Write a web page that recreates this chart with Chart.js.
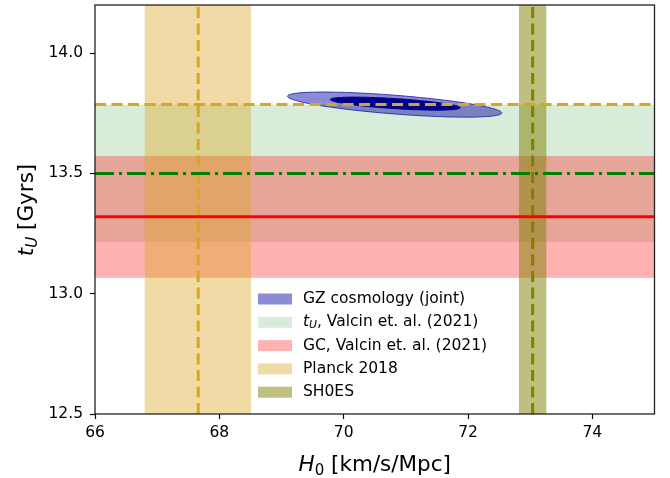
<!DOCTYPE html>
<html><head><meta charset="utf-8">
<script src="https://cdn.jsdelivr.net/npm/chart.js@4/dist/chart.umd.min.js"></script>
<style>html,body{margin:0;padding:0;background:#fff}#wrap{width:670px;height:478px;position:relative}</style>
</head><body><div id="wrap"><canvas id="c" width="670" height="478"></canvas></div>
<script>
// ---------- data ----------
const xTicks = [66, 68, 70, 72, 74];
const xTickLabels = ['66', '68', '70', '72', '74'];
const yTicks = [12.5, 13.0, 13.5, 14.0];
const yTickLabels = ['12.5', '13.0', '13.5', '14.0'];
const xRange = [66, 75];
const yRange = [12.5, 14.2];

// horizontal bands (t_U, Gyr)
const tUBand = [13.215, 13.786];
const gcBand = [13.066, 13.572];
// vertical bands (H0)
const planckBand = [66.80, 68.51];
const shoesBand = [72.82, 73.26];
// reference lines
const tUCentral = 13.5;
const gcCentral = 13.32;
const planckH0 = 67.66;
const planckAge = 13.786;
const shoesH0 = 73.04;
// GZ joint contours (outer, inner): centre, major half-axis vector, minor half-height
const gzCenterH0 = [70.82, 70.83];
const gzCenterAge = [13.786, 13.790];
const gzMajorH0 = [1.723, 1.045];
const gzMajorAge = [-0.0347, -0.0172];
const gzMinorAge = [0.039, 0.021];

const legendLabels = ['GZ cosmology (joint)', 'tU, Valcin et. al. (2021)', 'GC, Valcin et. al. (2021)', 'Planck 2018', 'SH0ES'];

// ---------- styles ----------
const FONT = '"DejaVu Sans", "Liberation Sans", sans-serif';
const C_TU = 'rgba(0,128,0,0.15)';
const C_GC = 'rgba(255,0,0,0.30)';
const C_PL = 'rgba(218,165,32,0.40)';
const C_SH = 'rgba(128,128,0,0.50)';
const C_GZ = 'rgba(0,0,160,0.45)';
const C_GZ_IN = '#00008b';
const legendColors = [C_GZ, C_TU, C_GC, C_PL, C_SH];

function hLine(y) { return [{x: xRange[0], y: y}, {x: xRange[1], y: y}]; }
function vLine(x) { return [{x: x, y: yRange[0]}, {x: x, y: yRange[1]}]; }

function drawRich(ctx, segs, size) {
  let x = 0;
  for (const s of segs) {
    const sz = s.sub ? size * 0.7 : size;
    ctx.font = (s.italic ? 'italic ' : '') + sz + 'px ' + FONT;
    const dy = s.sub ? size * 0.2 : 0;
    ctx.fillText(s.t, x, dy);
    x += ctx.measureText(s.t).width;
  }
  return x;
}
function richWidth(ctx, segs, size) {
  let x = 0;
  for (const s of segs) {
    const sz = s.sub ? size * 0.7 : size;
    ctx.font = (s.italic ? 'italic ' : '') + sz + 'px ' + FONT;
    x += ctx.measureText(s.t).width;
  }
  return x;
}

const decor = {
  id: 'decor',
  beforeDatasetsDraw(chart) {
    const {ctx, chartArea: a, scales: {x, y}} = chart;
    ctx.save();
    ctx.beginPath(); ctx.rect(a.left, a.top, a.right - a.left, a.bottom - a.top); ctx.clip();
    const hb = (b, c) => { ctx.fillStyle = c; const t = y.getPixelForValue(b[1]), btm = y.getPixelForValue(b[0]); ctx.fillRect(a.left, t, a.right - a.left, btm - t); };
    const vb = (b, c) => { ctx.fillStyle = c; const l = x.getPixelForValue(b[0]), r = x.getPixelForValue(b[1]); ctx.fillRect(l, a.top, r - l, a.bottom - a.top); };
    hb(tUBand, C_TU);
    hb(gcBand, C_GC);
    vb(planckBand, C_PL);
    vb(shoesBand, C_SH);
    for (let i = 0; i < gzCenterH0.length; i++) {
      ctx.beginPath();
      const N = 180;
      for (let k = 0; k <= N; k++) {
        const t = 2 * Math.PI * k / N;
        const hx = gzCenterH0[i] + Math.cos(t) * gzMajorH0[i];
        const ay = gzCenterAge[i] + Math.cos(t) * gzMajorAge[i] + Math.sin(t) * gzMinorAge[i];
        const px = x.getPixelForValue(hx), py = y.getPixelForValue(ay);
        if (k === 0) ctx.moveTo(px, py); else ctx.lineTo(px, py);
      }
      ctx.closePath();
      ctx.fillStyle = i === 0 ? C_GZ : C_GZ_IN;
      ctx.fill();
      ctx.lineWidth = 1;
      ctx.strokeStyle = i === 0 ? 'rgba(30,30,170,0.85)' : C_GZ_IN;
      ctx.stroke();
    }
    ctx.restore();
  },
  afterDraw(chart) {
    const {ctx, chartArea: a} = chart;
    ctx.save();
    ctx.strokeStyle = '#222'; ctx.lineWidth = 1.3;
    ctx.strokeRect(a.left, a.top, a.right - a.left, a.bottom - a.top);
    const lx = 258, lw = 34, lh = 11, tx = 303, y0 = 299, dy = 23.3;
    ctx.textBaseline = 'middle';
    for (let i = 0; i < legendLabels.length; i++) {
      const cy = y0 + i * dy;
      ctx.fillStyle = '#fff'; ctx.fillRect(lx, cy - lh / 2, lw, lh);
      ctx.fillStyle = legendColors[i]; ctx.fillRect(lx, cy - lh / 2, lw, lh);
      ctx.fillStyle = '#000';
      ctx.save(); ctx.translate(tx, cy);
      if (i === 1) {
        drawRich(ctx, [{t: 't', italic: true}, {t: 'U', italic: true, sub: true}, {t: ', Valcin et. al. (2021)'}], 15.5);
      } else {
        ctx.font = '15.5px ' + FONT; ctx.fillText(legendLabels[i], 0, 0);
      }
      ctx.restore();
    }
    ctx.textBaseline = 'alphabetic'; ctx.fillStyle = '#000';
    const xs = [{t: 'H', italic: true}, {t: '0', sub: true}, {t: ' [km/s/Mpc]'}];
    const wX = richWidth(ctx, xs, 21.5);
    ctx.save(); ctx.translate((a.left + a.right) / 2 - wX / 2, 471); drawRich(ctx, xs, 21.5); ctx.restore();
    const ys = [{t: 't', italic: true}, {t: 'U', italic: true, sub: true}, {t: ' [Gyrs]'}];
    const wY = richWidth(ctx, ys, 21.5);
    ctx.save(); ctx.translate(33, 210 + wY / 2); ctx.rotate(-Math.PI / 2); drawRich(ctx, ys, 21.5); ctx.restore();
    ctx.restore();
  }
};

const lineDs = (data, color, dash) => ({
  data, borderColor: color, borderWidth: 3, borderDash: dash || [], borderCapStyle: 'butt',
  pointRadius: 0, showLine: true, fill: false, tension: 0
});

new Chart(document.getElementById('c'), {
  type: 'scatter',
  data: {
    datasets: [
      lineDs(hLine(gcCentral), '#ff0000'),
      lineDs(hLine(tUCentral), '#008000', [19, 5, 3, 5]),
      lineDs(hLine(planckAge), '#daa520', [11, 5.5]),
      lineDs(vLine(planckH0), '#daa520', [11, 5.5]),
      lineDs(vLine(shoesH0), '#808000', [11, 5.5])
    ]
  },
  options: {
    responsive: false, animation: false, devicePixelRatio: 1,
    layout: {padding: {left: 0, right: 15.5, top: 5, bottom: 0}},
    plugins: {legend: {display: false}, tooltip: {enabled: false}},
    scales: {
      x: {
        type: 'linear', min: xRange[0], max: xRange[1],
        afterBuildTicks: s => { s.ticks = xTicks.map(v => ({value: v})); },
        afterFit: s => { s.height = 64; s.paddingLeft = 0; s.paddingRight = 0; },
        ticks: {font: {family: FONT, size: 15.5}, color: '#000', padding: 5, maxRotation: 0, autoSkip: false,
          callback: v => xTickLabels[xTicks.indexOf(v)]},
        grid: {display: true, drawOnChartArea: false, drawTicks: true, tickLength: 5, tickWidth: 1.2, tickColor: '#000'},
        border: {display: false}
      },
      y: {
        type: 'linear', min: yRange[0], max: yRange[1],
        afterBuildTicks: s => { s.ticks = yTicks.map(v => ({value: v})); },
        afterFit: s => { s.width = 95; s.paddingTop = 0; s.paddingBottom = 0; },
        ticks: {font: {family: FONT, size: 15.5}, color: '#000', padding: 7, autoSkip: false,
          callback: v => yTickLabels[yTicks.indexOf(v)]},
        grid: {display: true, drawOnChartArea: false, drawTicks: true, tickLength: 5, tickWidth: 1.2, tickColor: '#000'},
        border: {display: false}
      }
    }
  },
  plugins: [decor]
});
</script>
</body></html>
